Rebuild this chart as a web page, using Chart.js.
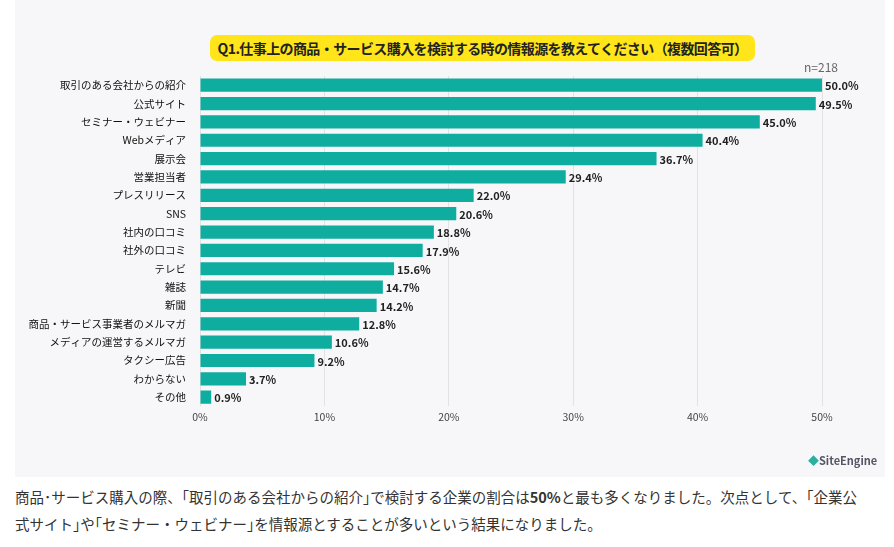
<!DOCTYPE html>
<html><head><meta charset="utf-8">
<script src="https://cdn.jsdelivr.net/npm/chart.js@4"></script>
<style>
body{margin:0;background:#fff;font-family:"Noto Sans CJK JP","Noto Sans",sans-serif;}
#panel{position:absolute;left:15px;top:0;width:870px;height:477px;background:#f7f7f9;}
#cv{position:absolute;left:0;top:0;}
#title{position:absolute;left:195px;top:35px;width:545px;height:26px;background:#ffe51a;border-radius:7px;font-weight:bold;font-size:14px;letter-spacing:-0.6px;white-space:nowrap;line-height:26px;color:#222;text-align:center;}
#n{position:absolute;left:789px;top:58px;font-size:12px;color:#666;}
#logo{position:absolute;left:793px;top:452px;font-size:11px;font-weight:bold;color:#556;}
#txt{position:absolute;left:15px;top:483px;width:848px;font-size:14.5px;line-height:27px;color:#333;word-break:break-all;}
</style></head><body>
<div id="panel"><canvas id="cv" width="870" height="477"></canvas>
<div id="title">Q1.仕事上の商品・サービス購入を検討する時の情報源を教えてください（複数回答可）</div>
<div id="n">n=218</div>
<div id="logo"><span style="color:#2bb0a0">◆</span>SiteEngine</div>
</div>
<div id="txt">商品･サービス購入の際、｢取引のある会社からの紹介｣で検討する企業の割合は<b>50%</b>と最も多くなりました。次点として、｢企業公式サイト｣や｢セミナー・ウェビナー｣を情報源とすることが多いという結果になりました。</div>
<script>
const categories=["取引のある会社からの紹介","公式サイト","セミナー・ウェビナー","Webメディア","展示会","営業担当者","プレスリリース","SNS","社内の口コミ","社外の口コミ","テレビ","雑誌","新聞","商品・サービス事業者のメルマガ","メディアの運営するメルマガ","タクシー広告","わからない","その他"];
const values=[50.0,49.5,45.0,40.4,36.7,29.4,22.0,20.6,18.8,17.9,15.6,14.7,14.2,12.8,10.6,9.2,3.7,0.9];
const xTicks=[0,10,20,30,40,50];
const labelPlugin={id:'lbl',afterDatasetsDraw(c){const ctx=c.ctx;const m=c.getDatasetMeta(0);ctx.save();ctx.font='bold 11px "Noto Sans CJK JP"';ctx.fillStyle='#222';ctx.textBaseline='middle';m.data.forEach((b,i)=>{ctx.fillText(values[i].toFixed(1)+'%',b.x+3,b.y+1);});ctx.restore();}};
new Chart(document.getElementById('cv'),{type:'bar',data:{labels:categories,datasets:[{data:values,backgroundColor:'#0fada0',borderColor:'#0fada0',categoryPercentage:1,barPercentage:0.72}]},
options:{indexAxis:'y',responsive:false,animation:false,layout:{padding:{top:76,right:63,bottom:50,left:0}},
plugins:{legend:{display:false},tooltip:{enabled:false}},
scales:{x:{min:0,max:50,afterBuildTicks(s){s.ticks=xTicks.map(v=>({value:v}));},ticks:{callback:v=>v+'%',font:{size:10.5,family:'Noto Sans CJK JP'},color:'#444',padding:4},grid:{color:'#e2e2e2',drawTicks:false},border:{display:false}},
y:{afterFit(s){s.width=185;},ticks:{font:{size:10.5,family:'Noto Sans CJK JP'},color:'#111',padding:6},grid:{display:false},border:{display:false}}}},
plugins:[labelPlugin]});
</script></body></html>
